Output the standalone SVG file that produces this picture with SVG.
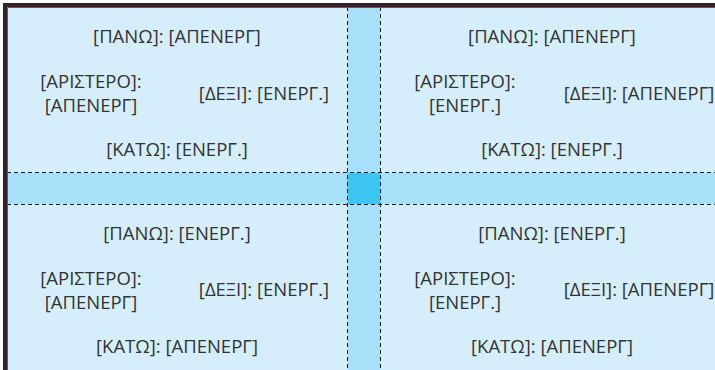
<svg xmlns="http://www.w3.org/2000/svg" width="715" height="370" viewBox="0 0 715 370">
<style>
.t{font-family:"Open Sans","Noto Sans",sans-serif;font-size:18.5px;fill:#333333;text-anchor:middle;dominant-baseline:central}
.d{stroke:#1a1a1a;stroke-width:1;stroke-dasharray:4 3;fill:none}
</style>
<rect x="0" y="0" width="715" height="370" fill="#ffffff"/>
<g id="background">
<rect x="5" y="5" width="720" height="370" fill="#d6eefb"/>
<rect x="347.5" y="5" width="33" height="370" fill="#a8dff9"/>
<rect x="5" y="173" width="720" height="31" fill="#a8dff9"/>
<rect x="347.5" y="173" width="33" height="31" fill="#3cc5f1"/>
</g>
<g id="grid-lines">
<line class="d" x1="347.5" y1="7" x2="347.5" y2="370"/>
<line class="d" x1="380.5" y1="7" x2="380.5" y2="370"/>
<line class="d" x1="7" y1="172.5" x2="715" y2="172.5"/>
<line class="d" x1="7" y1="204.5" x2="715" y2="204.5"/>
</g>
<g id="frame">
<path d="M5 372 V5 H720" fill="none" stroke="#30242a" stroke-width="4"/>
<path d="M7.5 372 V7.5 H720" fill="none" stroke="#7a4f5e" stroke-width="1"/>
</g>
<g id="q-top-left">
<text class="t" x="177" y="35">[ΠΑΝΩ]: [ΑΠΕΝΕΡΓ]</text>
<text class="t" x="91" y="80">[ΑΡΙΣΤΕΡΟ]:</text>
<text class="t" x="91" y="104">[ΑΠΕΝΕΡΓ]</text>
<text class="t" x="264" y="92">[ΔΕΞΙ]: [ΕΝΕΡΓ.]</text>
<text class="t" x="177" y="148">[ΚΑΤΩ]: [ΕΝΕΡΓ.]</text>
</g>
<g id="q-top-right">
<text class="t" x="552" y="35">[ΠΑΝΩ]: [ΑΠΕΝΕΡΓ]</text>
<text class="t" x="465" y="80">[ΑΡΙΣΤΕΡΟ]:</text>
<text class="t" x="465" y="104">[ΕΝΕΡΓ.]</text>
<text class="t" x="639" y="92">[ΔΕΞΙ]: [ΑΠΕΝΕΡΓ]</text>
<text class="t" x="552" y="148">[ΚΑΤΩ]: [ΕΝΕΡΓ.]</text>
</g>
<g id="q-bottom-left">
<text class="t" x="177" y="232">[ΠΑΝΩ]: [ΕΝΕΡΓ.]</text>
<text class="t" x="91" y="277">[ΑΡΙΣΤΕΡΟ]:</text>
<text class="t" x="91" y="301">[ΑΠΕΝΕΡΓ]</text>
<text class="t" x="264" y="288">[ΔΕΞΙ]: [ΕΝΕΡΓ.]</text>
<text class="t" x="177" y="345">[ΚΑΤΩ]: [ΑΠΕΝΕΡΓ]</text>
</g>
<g id="q-bottom-right">
<text class="t" x="552" y="232">[ΠΑΝΩ]: [ΕΝΕΡΓ.]</text>
<text class="t" x="465" y="277">[ΑΡΙΣΤΕΡΟ]:</text>
<text class="t" x="465" y="301">[ΕΝΕΡΓ.]</text>
<text class="t" x="639" y="288">[ΔΕΞΙ]: [ΑΠΕΝΕΡΓ]</text>
<text class="t" x="552" y="345">[ΚΑΤΩ]: [ΑΠΕΝΕΡΓ]</text>
</g>
</svg>
